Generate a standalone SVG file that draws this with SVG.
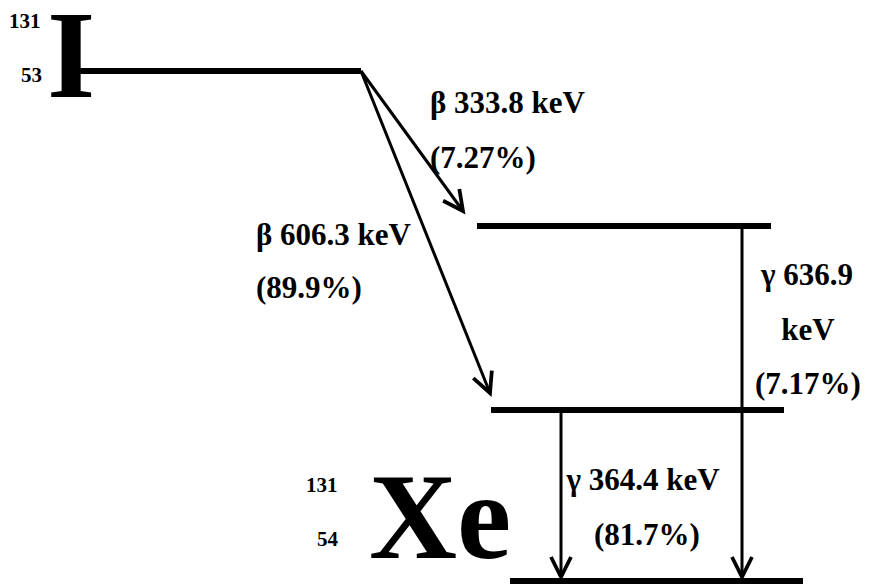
<svg xmlns="http://www.w3.org/2000/svg" width="869" height="585" viewBox="0 0 869 585">
<defs>
<style>
.t{font-family:"Liberation Serif","Times New Roman",serif;font-weight:bold;fill:#000}
.lab{font-size:31px}
.sm{font-size:21px}
.big{font-size:124px}
.lvl{stroke:#000;stroke-width:6;fill:none}
.arr{stroke:#000;stroke-width:3;fill:none;marker-end:url(#ah)}
</style>
<marker id="ah" markerUnits="userSpaceOnUse" markerWidth="30" markerHeight="30" viewBox="-20 -12 24 24" refX="0" refY="0" orient="auto">
<path d="M-16,-8 L0,0 L-16,8" fill="none" stroke="#000" stroke-width="3"/>
</marker>
</defs>
<rect width="869" height="585" fill="#fff"/>
<g id="iodine">
<text class="t sm" x="9" y="28">131</text>
<text class="t sm" x="21" y="82">53</text>
<text class="t big" x="47" y="97">I</text>
<line class="lvl" x1="80" y1="71" x2="361" y2="71"/>
</g>
<g id="level2">
<line class="lvl" x1="477" y1="226" x2="771" y2="226"/>
</g>
<g id="level3">
<line class="lvl" x1="491" y1="410" x2="784" y2="410"/>
</g>
<g id="xenon">
<text class="t sm" x="306" y="492">131</text>
<text class="t sm" x="317" y="546">54</text>
<text class="t" style="font-size:122px" x="369" y="558">Xe</text>
<line class="lvl" x1="510" y1="581" x2="803" y2="581"/>
</g>
<g id="connectors">
<line class="arr" x1="361" y1="71" x2="463" y2="211"/>
<line class="arr" x1="361" y1="71" x2="490" y2="393"/>
<line class="arr" x1="742" y1="229" x2="742" y2="577"/>
<line class="arr" x1="561" y1="413" x2="561" y2="577"/>
</g>
<g id="labels">
<text class="t lab" x="430" y="113">β 333.8 keV</text>
<text class="t lab" x="430" y="168">(7.27%)</text>
<text class="t lab" x="256" y="245">β 606.3 keV</text>
<text class="t lab" x="256" y="298">(89.9%)</text>
<text class="t lab" x="807" y="285" text-anchor="middle">γ 636.9</text>
<text class="t lab" x="808" y="340" text-anchor="middle">keV</text>
<text class="t lab" x="808" y="394" text-anchor="middle">(7.17%)</text>
<text class="t lab" x="643" y="490" text-anchor="middle">γ 364.4 keV</text>
<text class="t lab" x="647" y="545" text-anchor="middle">(81.7%)</text>
</g>
</svg>
